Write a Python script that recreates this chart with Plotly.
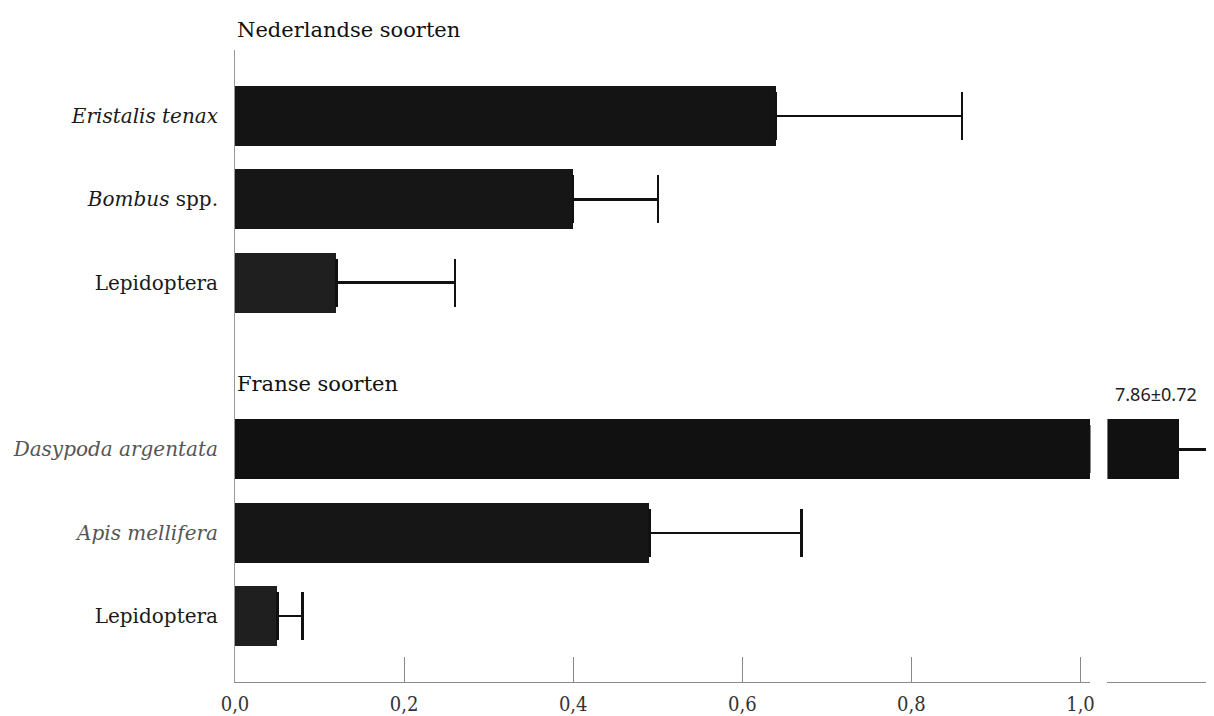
import plotly.graph_objects as go

# ---- data ----
groups = ["Nederlandse soorten", "Franse soorten"]
categories = [
    ["<i>Eristalis tenax</i>", "<i>Bombus</i> spp.", "Lepidoptera"],
    ["<i>Dasypoda argentata</i>", "<i>Apis mellifera</i>", "Lepidoptera"],
]
values = [[0.64, 0.40, 0.12], [7.86, 0.49, 0.05]]
errors = [[0.22, 0.10, 0.14], [0.72, 0.18, 0.03]]
label_colors = [["#1a1a1a", "#1a1a1a", "#1a1a1a"], ["#555555", "#555555", "#1a1a1a"]]
bar_colors = [["#141414", "#161616", "#1f1f1f"], ["#111111", "#161616", "#1f1f1f"]]
tick_vals = [0.0, 0.2, 0.4, 0.6, 0.8, 1.0]
tick_text = ["0,0", "0,2", "0,4", "0,6", "0,8", "1,0"]

# broken axis settings
break_low = 1.0118   # end of first axis segment
break_high = 7.0     # start of second axis segment
x2_end = 8.23

# ---- build positions (slot per category, one empty slot between groups) ----
ypos, ylab, vals, errs, cols = [], [], [], [], []
slot = 0
for g in range(len(groups)):
    for i, c in enumerate(categories[g]):
        ypos.append(slot)
        ylab.append(f'<span style="color:{label_colors[g][i]}">{c}</span>')
        vals.append(values[g][i])
        errs.append(errors[g][i])
        cols.append(bar_colors[g][i])
        slot += 1
    slot += 1

low_vals = [min(v, break_low) for v in vals]
low_errs = [e if v <= break_low else None for v, e in zip(vals, errs)]
hi_idx = [k for k, v in enumerate(vals) if v > break_low]

fig = go.Figure()
fig.add_trace(go.Bar(
    x=low_vals, y=ypos, orientation="h", width=0.72,
    marker=dict(color=cols, line=dict(width=0)),
    error_x=dict(type="data", array=low_errs, arrayminus=[0] * len(vals), symmetric=False,
                 color="#111111", thickness=2.5, width=24),
    xaxis="x", yaxis="y", showlegend=False,
))
fig.add_trace(go.Bar(
    x=[vals[k] for k in hi_idx], y=[ypos[k] for k in hi_idx], orientation="h", width=0.72,
    marker=dict(color=[cols[k] for k in hi_idx], line=dict(width=0)),
    error_x=dict(type="data", array=[errs[k] for k in hi_idx], arrayminus=[0] * len(hi_idx),
                 symmetric=False, color="#111111", thickness=2.5, width=0),
    xaxis="x2", yaxis="y", showlegend=False,
))

d1 = (1094 - 235) / 979
d2 = (1111 - 235) / 979

# page has an 8px body margin: figure is 1206x708 so it fills the 1214x716 window
fig.update_layout(
    width=1206, height=708,
    margin=dict(l=227, r=0, t=42, b=33),
    paper_bgcolor="white", plot_bgcolor="white",
    bargap=0,
    xaxis=dict(domain=[0, d1], range=[0, break_low], tickvals=tick_vals, ticktext=tick_text,
               ticks="inside", ticklen=25, tickcolor="#888888", tickwidth=1,
               showline=True, linecolor="#8a8a8a", linewidth=1, showgrid=False, zeroline=False,
               ticklabelstandoff=4,
               tickfont=dict(family="DejaVu Serif Condensed, DejaVu Serif", size=20, color="#333333"),
               anchor="y"),
    xaxis2=dict(domain=[d2, 1], range=[break_high, x2_end], showticklabels=False, ticks="",
                showline=True, linecolor="#8a8a8a", linewidth=1, showgrid=False, zeroline=False,
                anchor="y"),
    yaxis=dict(range=[6.79, -0.79], tickvals=ypos, ticktext=ylab, ticks="",
               showline=True, linecolor="#9a9a9a", linewidth=1, showgrid=False, zeroline=False,
               ticklabelstandoff=12,
               tickfont=dict(family="DejaVu Serif", size=20, color="#1a1a1a")),
)

head_y = [1 + 20 / 633, 1 - (385 - 50) / 633]
for g, name in enumerate(groups):
    fig.add_annotation(text=name, xref="paper", yref="paper", x=0.0, y=head_y[g],
                       xanchor="left", yanchor="middle", showarrow=False,
                       font=dict(family="DejaVu Serif", size=21, color="#111111"))

for k in hi_idx:
    fig.add_annotation(text=f"{vals[k]:.2f}±{errs[k]:.2f}", xref="paper", yref="paper",
                       x=(1160 - 235) / 979, y=1 - (395 - 50) / 633,
                       xanchor="center", yanchor="middle", showarrow=False,
                       font=dict(family="Noto Sans", size=18, color="#222222"))

fig.write_html("out.html")
